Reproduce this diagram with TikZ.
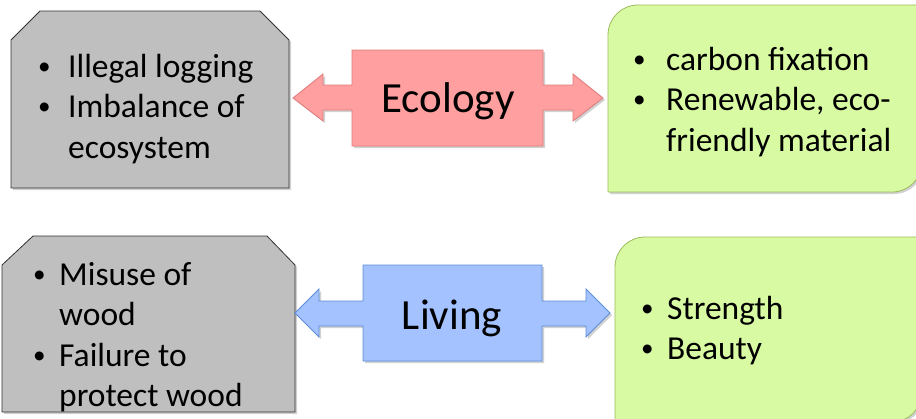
\documentclass[tikz,border=0pt]{standalone}
\usepackage{fontspec}
\setmainfont{Carlito}
\usepackage{xcolor}
\usepackage{graphicx}
\usetikzlibrary{
	arrows.meta,
	calc,
	positioning,
	shadows
}

\definecolor{boxgray}{HTML}{BFBFBF}
\definecolor{ecofill}{HTML}{FF9F9F}
\definecolor{ecoline}{HTML}{E07A7A}
\definecolor{livfill}{HTML}{A4C2FF}
\definecolor{livline}{HTML}{5B8ED6}
\definecolor{greenfill}{HTML}{D8FAA2}
\definecolor{greenline}{HTML}{9BBB59}

\newcommand{\pointmark}{\hspace*{1pt}\raisebox{2.6pt}{\scalebox{0.75}{\textbullet}}}

\tikzset{
	shade/.style={drop shadow={shadow xshift=2pt, shadow yshift=-2pt, opacity=0.3, fill=black!60}},
	problem/.style={draw=black!80, fill=boxgray, line width=0.8pt, shade},
	merit/.style={draw=greenline, fill=greenfill, line width=0.8pt, shade},
	ecoarrow/.style={draw=ecoline, fill=ecofill, line width=0.8pt, shade},
	livarrow/.style={draw=livline, fill=livfill, line width=0.8pt, shade},
	points/.style={inner sep=0pt, anchor=base west, font=\fontsize{33.5}{40.5}\selectfont},
	theme/.style={inner sep=0pt, anchor=base, font=\fontsize{43}{50}\selectfont}
}

\begin{document}
\begin{tikzpicture}[x=1pt, y=-1pt]
		\useasboundingbox (0,0) rectangle (916,418);
		\clip (0,0) rectangle (916,418);
		% ecology row
		\draw[problem] (11,188) -- (11,40) -- (40,11) -- (260,11) -- (289,40) -- (289,188) -- cycle;
		\draw[ecoarrow] (293,98) -- (323,74) -- (323,85) -- (352,85) -- (352,50) -- (543,50) -- (543,85)
			-- (573,85) -- (573,74) -- (603,98) -- (573,121) -- (573,110) -- (543,110) -- (543,146)
			-- (352,146) -- (352,110) -- (323,110) -- (323,121) -- cycle;
		\draw[merit] (608,192) -- (608,35) arc[start angle=180, end angle=90, radius=30pt] -- (922,5)
			-- (922,162) arc[start angle=0, end angle=-90, radius=30pt] -- cycle;
		% living row
		\draw[problem] (2,412) -- (2,265) -- (33,236) -- (267,236) -- (295,265) -- (295,412) -- cycle;
		\draw[livarrow] (295,313) -- (319,289) -- (319,301) -- (363,301) -- (363,265) -- (542,265) -- (542,301)
			-- (586,301) -- (586,289) -- (610,313) -- (586,337) -- (586,326) -- (542,326) -- (542,361)
			-- (363,361) -- (363,326) -- (319,326) -- (319,337) -- cycle;
		\draw[merit] (615,422) -- (615,267) arc[start angle=180, end angle=90, radius=30pt] -- (922,237)
			-- (922,392) arc[start angle=0, end angle=-90, radius=30pt] -- cycle;
		% texts
		\node[theme] (ecology) at (448,112) {Ecology};
		\node[theme] (living) at (452,329) {Living};
		\node[points] (ecobad) at (37,77) {\begin{tabular}[t]{@{}p{31pt}@{}l@{}}
			\pointmark & Illegal logging\\ \pointmark & Imbalance of\\ & ecosystem\end{tabular}};
		\node[points] (ecogood) at (632,70) {\begin{tabular}[t]{@{}p{34pt}@{}l@{}}
			\pointmark & carbon fixation\\ \pointmark & Renewable, eco-\\ & friendly material\end{tabular}};
		\node[points] (livbad) at (32,285) {\begin{tabular}[t]{@{}p{27pt}@{}l@{}}
			\pointmark & Misuse of\\ & wood\\ \pointmark & Failure to\\ & protect wood\end{tabular}};
		\node[points] (livgood) at (640,319) {\begin{tabular}[t]{@{}p{27pt}@{}l@{}}
			\pointmark & Strength\\ \pointmark & Beauty\end{tabular}};
	\end{tikzpicture}
\end{document}
